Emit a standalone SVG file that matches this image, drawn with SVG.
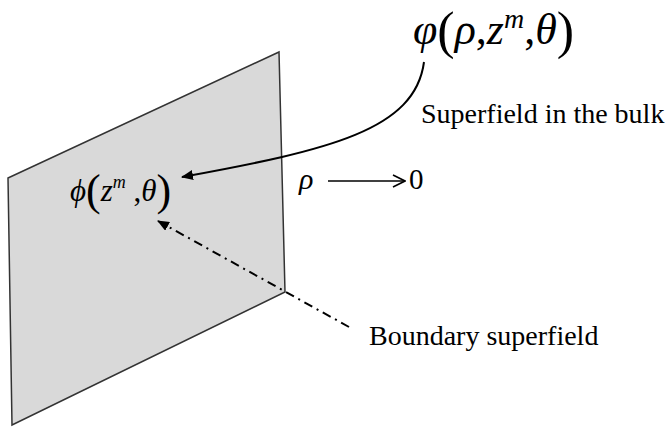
<svg xmlns="http://www.w3.org/2000/svg" width="665" height="428" viewBox="0 0 665 428">
<defs>
<style>
.t{font-family:"Liberation Serif","Times New Roman",serif;fill:#000}
.i{font-style:italic}
.lbl{font-size:28px}
</style>
<marker id="ah" markerWidth="12" markerHeight="10" refX="11" refY="5" orient="auto" markerUnits="userSpaceOnUse">
<path d="M0,0 L12,5 L0,10 Z" fill="#000"/>
</marker>
<marker id="ah2" markerWidth="14" markerHeight="14" refX="13" refY="7" orient="auto" markerUnits="userSpaceOnUse">
<path d="M1,1 L13,7 L1,13" fill="none" stroke="#000" stroke-width="1.6"/>
</marker>
</defs>
<rect width="665" height="428" fill="#fff"/>
<g id="plane">
<polygon points="8,178 279,52 285,292 12,425" fill="#d9d9d9" stroke="#333" stroke-width="1.5"/>
</g>
<g id="bulk">
<text class="t" x="413" y="44" font-size="44"><tspan class="i">φ</tspan><tspan font-size="52" dy="4">(</tspan><tspan class="i" dy="-4">ρ</tspan><tspan>,</tspan><tspan class="i">z</tspan><tspan class="i" font-size="28" dy="-16">m</tspan><tspan dy="16">,</tspan><tspan class="i">θ</tspan><tspan font-size="52" dy="4">)</tspan></text>
<text class="t lbl" x="421" y="123">Superfield in the bulk</text>
</g>
<g id="boundary">
<text class="t" x="70" y="201" font-size="31"><tspan class="i">ϕ</tspan><tspan font-size="44" dy="4">(</tspan><tspan class="i" dy="-4">z</tspan><tspan class="i" font-size="18" dy="-13">m</tspan><tspan dy="13"> ,</tspan><tspan class="i">θ</tspan><tspan font-size="44" dy="4">)</tspan></text>
<text class="t lbl" x="369" y="345">Boundary superfield</text>
</g>
<g id="limit">
<text class="t i" x="299" y="189" font-size="30">ρ</text>
<text class="t" x="409" y="189" font-size="29">0</text>
</g>
<g id="connectors" fill="none" stroke="#000">
<path d="M424,62 C415,130 330,150 182,177" stroke-width="2" marker-end="url(#ah)"/>
<line x1="328" y1="181" x2="405" y2="181" stroke-width="1.5" marker-end="url(#ah2)"/>
<line x1="349" y1="327" x2="158" y2="221" stroke-width="2" stroke-dasharray="9,5,2,5" marker-end="url(#ah)"/>
</g>
</svg>
